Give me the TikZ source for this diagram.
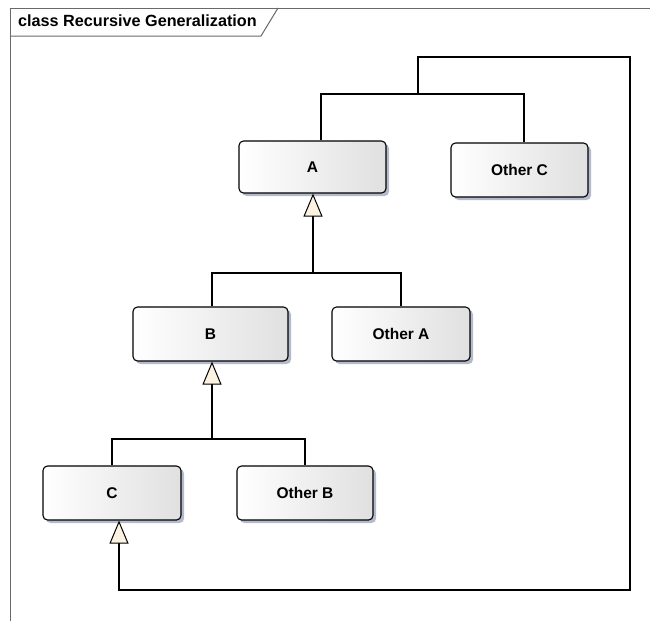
\documentclass[tikz,border=0pt]{standalone}
\usepackage{fontspec}
\setmainfont{Liberation Sans}
\usetikzlibrary{arrows.meta,shadows}

\definecolor{frameline}{RGB}{105,105,105}
\definecolor{boxshadow}{RGB}{178,186,204}
\definecolor{boxright}{RGB}{224,224,224}
\definecolor{tipfill}{RGB}{252,242,226}

\tikzset{
  classbox/.style={draw=black, line width=1.1pt, rounded corners=4.5pt,
    left color=white, right color=boxright, inner sep=0pt,
    font=\bfseries\fontsize{15.5}{18}\selectfont,
    general shadow={fill=boxshadow, shadow xshift=3pt, shadow yshift=-3pt}},
  link/.style={draw=black, line width=1.3pt},
  gen/.style={link, -{Triangle[width=19pt,length=23pt,fill=tipfill,line width=1pt]}},
  recursion/.style={gen, line width=2.4pt},
  frame/.style={draw=frameline, line width=1pt},
}

\begin{document}
\begin{tikzpicture}[x=1pt,y=-1pt]
  \fill[white] (0,0) rectangle (650,621);
  \useasboundingbox (0,0) rectangle (650,621);

  % diagram frame and its name tab
  \draw[frame] (10,621) -- (10,8) -- (650,8);
  \draw[frame] (10,36) -- (261,36) -- (278,8);
  \node[anchor=base west, inner sep=0pt, font=\bfseries\fontsize{16.2}{19}\selectfont]
    (title) at (18,27) {class Recursive Generalization};

  % classes
  \node[classbox, minimum width=147pt, minimum height=52pt] (A)  at (312.5,167) {A};
  \node[classbox, minimum width=137pt, minimum height=54pt] (OC) at (519.5,170) {Other C};
  \node[classbox, minimum width=155pt, minimum height=54pt] (B)  at (210.5,334) {B};
  \node[classbox, minimum width=138pt, minimum height=54pt] (OA) at (401,334)   {Other A};
  \node[classbox, minimum width=138pt, minimum height=54pt] (C)  at (112,493)   {C};
  \node[classbox, minimum width=136pt, minimum height=54pt] (OB) at (305,493)   {Other B};

  % junctions of the generalization trees
  \coordinate (topjoin) at (418,94);
  \coordinate (ajoin)   at (313,273);
  \coordinate (bjoin)   at (212,439);
  \coordinate (loopTR)  at (630,57);
  \coordinate (loopBR)  at (630,590);

  % A and Other C share a parent line
  \draw[link] ([xshift=8.5pt]A.north) |- (topjoin) -| ([xshift=4.5pt]OC.north);

  % B and Other A generalize A
  \draw[link] ([xshift=1.5pt]B.north) |- (ajoin) -| (OA.north);
  \draw[gen] (ajoin) -- (ajoin |- A.south);

  % C and Other B generalize B
  \draw[link] (C.north) |- (bjoin) -| (OB.north);
  \draw[gen] (bjoin) -- (bjoin |- B.south);

  % recursive generalization back into C
  \draw[recursion] (topjoin) |- (loopTR) -- (loopBR) -| ([xshift=7pt]C.south);
\end{tikzpicture}
\end{document}
